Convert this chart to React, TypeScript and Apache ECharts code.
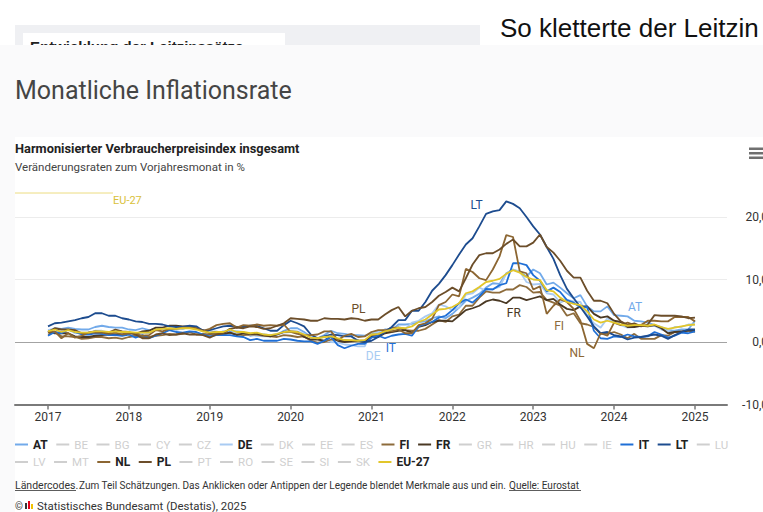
import React, { useEffect, useRef } from "react";
import * as echarts from "echarts";

// ---------- data ----------
const startYear = 2017;
const yearTicks = [2017, 2018, 2019, 2020, 2021, 2022, 2023, 2024, 2025];
const yTicks = [-10, 0, 10, 20];

const rowOne = ["AT", "BE", "BG", "CY", "CZ", "DE", "DK", "EE", "ES", "FI", "FR", "GR", "HR", "HU", "IE", "IT", "LT", "LU"];
const rowTwo = ["LV", "MT", "NL", "PL", "PT", "RO", "SE", "SI", "SK", "EU-27"];
const shown = ["AT", "DE", "FI", "FR", "IT", "LT", "NL", "PL", "EU-27"];

// monthly HICP rates Jan 2017 .. Jan 2025
const atValues = [
  1.6, 2.2, 2.1, 2.3, 2.1, 2.0, 2.0, 2.4, 2.6, 2.4, 2.3, 2.3,
  2.0, 1.9, 2.2, 1.9, 2.1, 2.1, 2.1, 2.1, 2.1, 2.4, 2.2, 1.7,
  1.7, 1.4, 1.7, 1.7, 1.7, 1.6, 1.0, 1.2, 1.2, 1.1, 1.2, 1.8,
  2.2, 2.2, 1.6, 0.8, 0.6, 1.1, 1.8, 1.4, 1.3, 1.1, 1.1, 1.0,
  1.4, 1.4, 2.0, 1.9, 2.8, 2.8, 2.9, 3.2, 3.3, 3.8, 4.1, 3.8,
  4.5, 5.5, 6.6, 7.1, 7.7, 8.7, 9.4, 9.3, 11.0, 11.6, 11.2, 10.5,
  11.6, 11.0, 9.2, 9.5, 8.7, 7.8, 7.0, 7.5, 5.7, 4.9, 4.9, 5.7,
  4.3, 4.2, 4.1, 3.4, 3.3, 3.1, 2.7, 2.4, 1.8, 1.8, 2.0, 2.0,
  3.4,
];
const deValues = [
  1.9, 2.2, 1.5, 2.0, 1.4, 1.5, 1.5, 1.8, 1.8, 1.5, 1.8, 1.6,
  1.4, 1.2, 1.5, 1.4, 2.2, 2.1, 2.1, 1.9, 2.2, 2.6, 2.2, 1.7,
  1.7, 1.7, 1.4, 2.1, 1.3, 1.5, 1.1, 1.0, 0.9, 0.9, 1.2, 1.5,
  1.6, 1.7, 1.3, 0.8, 0.5, 0.8, 0.0, -0.1, -0.4, -0.5, -0.7, -0.7,
  1.6, 1.6, 2.0, 2.1, 2.4, 2.1, 3.1, 3.4, 4.1, 4.6, 6.0, 5.7,
  5.1, 5.5, 7.6, 7.8, 8.7, 8.2, 8.5, 8.8, 10.9, 11.6, 11.3, 9.6,
  9.2, 9.3, 7.8, 7.6, 6.3, 6.8, 6.5, 6.4, 4.3, 3.0, 2.3, 3.8,
  3.1, 2.7, 2.3, 2.4, 2.8, 2.5, 2.6, 2.0, 1.8, 2.4, 2.4, 2.8,
  2.8,
];
const fiValues = [
  1.2, 1.6, 0.9, 0.9, 0.8, 0.5, 0.6, 0.8, 0.8, 0.6, 0.7, 0.5,
  0.8, 1.0, 0.8, 0.8, 1.0, 1.1, 1.3, 1.2, 1.3, 1.6, 1.2, 1.3,
  1.2, 1.3, 1.2, 1.5, 1.2, 1.1, 1.2, 1.2, 1.0, 0.9, 0.8, 1.1,
  1.0, 0.8, 0.9, 0.2, -0.1, 0.0, 0.4, 0.3, 0.3, 0.2, 0.2, 0.2,
  1.0, 1.1, 1.8, 2.3, 2.3, 1.9, 1.8, 1.8, 2.1, 2.8, 3.5, 3.2,
  4.1, 4.4, 5.8, 5.8, 7.1, 8.1, 7.9, 7.9, 8.4, 8.4, 9.1, 8.8,
  7.9, 8.0, 6.7, 6.3, 5.8, 4.2, 4.6, 3.0, 2.8, 2.4, 1.3, 1.3,
  1.6, 1.2, 0.6, 1.3, 0.5, 0.5, 0.5, 1.1, 1.0, 1.6, 1.6, 1.9,
  1.6,
];
const frValues = [
  1.6, 1.4, 1.4, 1.4, 0.9, 0.8, 0.8, 1.0, 1.1, 1.2, 1.2, 1.2,
  1.5, 1.3, 1.7, 1.8, 2.3, 2.3, 2.6, 2.6, 2.5, 2.5, 2.2, 1.9,
  1.4, 1.6, 1.3, 1.5, 1.1, 1.4, 1.3, 1.3, 1.1, 0.9, 1.2, 1.6,
  1.7, 1.6, 0.8, 0.4, 0.4, 0.2, 0.9, 0.2, 0.0, 0.1, 0.2, 0.0,
  0.8, 0.8, 1.4, 1.6, 1.8, 1.9, 1.5, 2.4, 2.7, 3.2, 3.4, 3.4,
  3.3, 4.2, 5.1, 5.4, 5.8, 6.5, 6.8, 6.6, 6.2, 7.1, 7.1, 6.7,
  7.0, 7.3, 6.7, 6.9, 6.0, 5.3, 5.1, 5.7, 5.7, 4.5, 3.9, 4.1,
  3.4, 3.2, 2.4, 2.4, 2.6, 2.5, 2.7, 2.2, 1.4, 1.6, 1.7, 1.8,
  1.8,
];
const itValues = [
  1.0, 1.6, 1.4, 2.0, 1.6, 1.2, 1.2, 1.4, 1.3, 1.1, 1.1, 1.0,
  1.2, 0.7, 1.1, 0.6, 1.0, 1.4, 1.9, 1.6, 1.5, 1.7, 1.6, 1.2,
  0.9, 1.1, 1.1, 1.1, 0.9, 0.8, 0.3, 0.5, 0.2, 0.2, 0.2, 0.5,
  0.4, 0.2, 0.1, 0.1, -0.3, 0.2, 0.8, -0.5, -1.0, -0.6, -0.3, -0.3,
  0.7, 1.0, 0.6, 1.0, 1.2, 1.3, 1.0, 2.5, 2.9, 3.2, 3.9, 4.2,
  5.1, 6.2, 6.8, 6.3, 7.3, 8.5, 8.4, 9.1, 9.4, 12.6, 12.6, 12.3,
  10.7, 9.8, 8.1, 8.7, 8.0, 6.7, 6.3, 5.5, 5.6, 1.8, 0.6, 0.5,
  0.9, 0.8, 1.2, 0.9, 0.8, 0.9, 1.6, 1.2, 0.7, 1.0, 1.5, 1.4,
  1.7,
];
const ltValues = [
  2.5, 3.0, 3.1, 3.3, 3.5, 3.8, 4.0, 4.6, 4.6, 4.2, 4.2, 3.8,
  3.6, 3.3, 3.2, 2.9, 2.9, 2.8, 2.5, 2.4, 2.4, 2.6, 2.5, 1.8,
  1.9, 2.2, 2.5, 2.6, 2.4, 2.4, 2.6, 2.6, 2.2, 1.8, 1.8, 2.7,
  3.4, 3.0, 2.5, 1.2, 0.6, 0.9, 1.2, 1.1, 0.9, 0.9, 0.2, 0.0,
  0.2, 0.8, 1.6, 2.4, 3.5, 3.5, 5.0, 5.0, 6.4, 8.2, 9.3, 10.7,
  12.3, 14.0, 15.6, 16.6, 18.5, 20.5, 20.9, 21.1, 22.5, 22.1, 21.4, 20.0,
  18.5, 17.2, 15.2, 13.3, 10.7, 8.5, 7.0, 5.6, 4.1, 2.5, 1.4, 1.6,
  1.1, 0.9, 0.4, 0.7, 0.8, 1.0, 1.2, 1.0, 0.5, 1.1, 1.6, 2.0,
  2.0,
];
const nlValues = [
  1.6, 1.7, 0.6, 1.4, 0.7, 1.0, 1.5, 1.5, 1.5, 1.3, 1.5, 1.2,
  1.4, 1.3, 1.0, 1.1, 1.9, 1.7, 2.1, 2.1, 2.3, 2.3, 2.2, 1.8,
  2.1, 2.7, 2.9, 3.0, 2.3, 2.7, 2.6, 2.8, 2.6, 2.7, 2.6, 2.8,
  1.6, 1.3, 1.1, 1.1, 1.2, 1.7, 1.7, 0.3, 1.0, 1.3, 0.8, 0.9,
  1.6, 1.9, 1.9, 1.7, 2.0, 1.4, 1.4, 2.7, 3.0, 3.7, 5.9, 6.4,
  7.6, 7.3, 11.7, 11.2, 10.2, 9.9, 11.6, 13.7, 17.1, 16.8, 11.3, 11.0,
  8.4, 8.9, 4.5, 5.8, 6.8, 6.4, 5.3, 3.4, -0.3, -1.0, 1.4, 1.0,
  3.1, 2.7, 3.1, 2.7, 2.7, 3.4, 3.4, 3.3, 3.3, 4.0, 4.0, 4.0,
  3.3,
];
const plValues = [
  1.6, 2.2, 2.0, 2.0, 1.9, 1.4, 1.5, 1.7, 1.6, 1.5, 2.0, 1.7,
  1.6, 1.2, 0.6, 0.6, 1.2, 1.4, 1.1, 1.2, 1.4, 1.2, 1.2, 1.1,
  0.7, 1.2, 1.4, 2.1, 2.3, 2.2, 2.5, 2.4, 2.1, 2.2, 2.6, 3.0,
  3.8, 3.7, 3.6, 3.4, 3.4, 3.8, 3.7, 3.7, 3.6, 3.8, 3.7, 3.4,
  3.6, 3.6, 4.4, 5.1, 5.6, 4.1, 5.0, 5.4, 5.6, 6.4, 7.4, 8.0,
  8.7, 8.1, 10.2, 12.4, 13.9, 14.2, 14.2, 14.8, 15.7, 16.4, 15.3, 15.3,
  15.9, 17.2, 15.2, 14.3, 13.0, 11.4, 10.3, 10.3, 8.2, 6.6, 6.6, 6.2,
  4.5, 3.3, 2.7, 3.0, 2.5, 2.8, 4.3, 4.2, 4.2, 4.2, 4.1, 3.8,
  3.9,
];
const euValues = [
  1.7, 2.0, 1.6, 1.9, 1.6, 1.5, 1.5, 1.7, 1.7, 1.6, 1.7, 1.6,
  1.6, 1.5, 1.5, 1.5, 2.0, 2.1, 2.2, 2.1, 2.2, 2.2, 2.0, 1.7,
  1.5, 1.6, 1.6, 2.0, 1.6, 1.6, 1.4, 1.5, 1.2, 1.1, 1.3, 1.6,
  1.7, 1.6, 1.2, 0.7, 0.6, 0.8, 0.9, 0.6, 0.3, 0.3, 0.2, 0.3,
  1.2, 1.3, 1.7, 2.0, 2.3, 2.2, 2.5, 3.2, 3.6, 4.4, 5.2, 5.3,
  5.6, 6.2, 7.8, 8.1, 8.8, 9.6, 9.8, 10.1, 10.9, 11.5, 11.1, 10.4,
  10.0, 9.9, 8.3, 8.1, 7.1, 6.4, 6.1, 5.9, 4.9, 3.6, 3.1, 3.4,
  3.1, 2.8, 2.6, 2.7, 2.7, 2.6, 2.8, 2.4, 2.1, 2.3, 2.5, 2.7,
  2.8,
];

const seriesValues: Record<string, number[]> = {
  AT: atValues, DE: deValues, FI: fiValues, FR: frValues, IT: itValues,
  LT: ltValues, NL: nlValues, PL: plValues, "EU-27": euValues,
};

const seriesColors: Record<string, string> = {
  AT: "#72aaea", DE: "#a9cbf2", FI: "#8d6b3b", FR: "#4a3924", IT: "#1f6fd6",
  LT: "#1d4c8f", NL: "#8c6632", PL: "#6c4e2a", "EU-27": "#e2c62a",
};

// label anchors in data units [year, value]
const labelAnchors: Record<string, [number, number]> = {
  LT: [2022.3, 21.9], PL: [2020.84, 5.3], DE: [2021.02, -2.2], IT: [2021.24, -1.0],
  FR: [2022.76, 4.6], FI: [2023.32, 2.6], NL: [2023.54, -1.8], AT: [2024.26, 5.6],
};

const FONT = "Roboto, 'Noto Sans', sans-serif";

export default function App() {
  const ref = useRef<HTMLDivElement>(null);

  useEffect(() => {
    if (!ref.current) return;
    const chart = echarts.init(ref.current, undefined, { renderer: "svg" });
    const all = [...rowOne, ...rowTwo];
    const selected: Record<string, boolean> = {};
    all.forEach((n) => (selected[n] = shown.includes(n)));

    const series = all.map((name) => {
      const vals = seriesValues[name] || [];
      const color = seriesColors[name] || "#cccccc";
      const anchor = labelAnchors[name];
      return {
        name,
        type: "line",
        data: vals.map((v, i) => [startYear + i / 12, v]),
        showSymbol: false,
        symbol: "none",
        color,
        lineStyle: { width: 1.8, color },
        emphasis: { disabled: true },
        markPoint: anchor
          ? {
              symbol: "circle",
              symbolSize: 1,
              itemStyle: { color: "transparent" },
              label: { show: true, position: "inside", formatter: name, color, fontSize: 12, fontFamily: FONT },
              data: [{ coord: anchor }],
            }
          : undefined,
      };
    });

    const legendBase = {
      left: 15,
      orient: "horizontal",
      padding: 0,
      itemGap: 8.5,
      itemWidth: 13,
      itemHeight: 2,
      icon: "rect",
      selected,
      inactiveColor: "#cfcfcf",
      textStyle: { fontSize: 12, color: "#222", fontFamily: FONT },
    };
    const mk = (names: string[]) =>
      names.map((n) =>
        shown.includes(n)
          ? { name: n, textStyle: { fontWeight: "bold" } }
          : { name: n, textStyle: { fontWeight: "normal", fontSize: 11.5 } }
      );

    chart.setOption({
      animation: false,
      backgroundColor: "#ffffff",
      grid: { left: 15, right: 36, top: 154.5, height: 250, outerBoundsMode: "none", containLabel: false },
      xAxis: {
        type: "value",
        min: 2016.592,
        max: 2025.396,
        axisLine: { show: true, onZero: false, lineStyle: { color: "#7a7a7a", width: 2 } },
        axisTick: { show: true, customValues: yearTicks, length: 5, lineStyle: { color: "#7a7a7a", width: 1.5 } },
        axisLabel: { customValues: yearTicks, formatter: (v: number) => String(v), color: "#333", fontSize: 12, margin: 6, fontFamily: FONT },
        splitLine: { show: false },
      },
      yAxis: {
        type: "value",
        position: "right",
        min: -10,
        max: 30,
        interval: 10,
        axisLine: { show: false },
        axisTick: { show: false },
        axisLabel: {
          formatter: (v: number) => (yTicks.includes(v) ? v.toFixed(1).replace(".", ",") : ""),
          align: "right",
          margin: 41,
          color: "#333",
          fontSize: 12,
          fontFamily: FONT,
        },
        splitLine: { lineStyle: { color: ["transparent", "#a3a3a3", "#ececec", "#ececec", "transparent"], width: 1 } },
      },
      legend: [
        { ...legendBase, top: 438.5, data: mk(rowOne) },
        { ...legendBase, top: 456, data: mk(rowTwo) },
      ],
      series,
      graphic: [
        { type: "rect", shape: { x: 15, y: 25, width: 465, height: 20 }, style: { fill: "#eff0f3" } },
        { type: "rect", shape: { x: 23, y: 33, width: 262, height: 12 }, style: { fill: "#ffffff" } },
        { type: "text", x: 30, y: 39, style: { text: "Entwicklung der Leitzinssätze", fontSize: 15, fontWeight: "bold", fontFamily: "'Liberation Sans', Arial, sans-serif", fill: "#222", verticalAlign: "top" } },
        { type: "text", x: 500, y: 28, style: { text: "So kletterte der Leitzin", fontSize: 26, fontFamily: "'Liberation Sans', Arial, sans-serif", fill: "#111", verticalAlign: "middle" } },
        { type: "rect", shape: { x: 0, y: 45, width: 763, height: 467 }, style: { fill: "#fafafb" } },
        { type: "rect", shape: { x: 15, y: 137, width: 748, height: 375 }, style: { fill: "#ffffff" } },
        { type: "text", x: 15, y: 90, style: { text: "Monatliche Inflationsrate", fontSize: 25, fontWeight: 400, fontFamily: FONT, fill: "#454545", verticalAlign: "middle" } },
        { type: "text", x: 15, y: 148, style: { text: "Harmonisierter Verbraucherpreisindex insgesamt", fontSize: 12.8, fontWeight: "bold", fontFamily: FONT, fill: "#222", verticalAlign: "middle" } },
        { type: "text", x: 15, y: 167, style: { text: "Veränderungsraten zum Vorjahresmonat in %", fontSize: 11.5, fontFamily: FONT, fill: "#444", verticalAlign: "middle" } },
        { type: "line", shape: { x1: 15, y1: 193, x2: 113, y2: 193 }, style: { stroke: "#ecdc80", lineWidth: 1 } },
        { type: "text", x: 113, y: 200, style: { text: "EU-27", fontSize: 11, fontFamily: FONT, fill: "#d9c13a", verticalAlign: "middle" } },
        { type: "rect", shape: { x: 749, y: 147.5, width: 16, height: 2.5 }, style: { fill: "#707070" } },
        { type: "rect", shape: { x: 749, y: 152, width: 16, height: 2.5 }, style: { fill: "#707070" } },
        { type: "rect", shape: { x: 749, y: 156.5, width: 16, height: 2.5 }, style: { fill: "#707070" } },
        { type: "text", x: 15, y: 485, style: { text: "Ländercodes.", fontSize: 10.5, fontFamily: FONT, fill: "#333", verticalAlign: "middle" } },
        { type: "line", shape: { x1: 15, y1: 490.5, x2: 76, y2: 490.5 }, style: { stroke: "#333", lineWidth: 0.8 } },
        { type: "text", x: 79, y: 485, style: { text: "Zum Teil Schätzungen. Das Anklicken oder Antippen der Legende blendet Merkmale aus und ein.", fontSize: 10, fontFamily: FONT, fill: "#333", verticalAlign: "middle" } },
        { type: "text", x: 509, y: 485, style: { text: "Quelle: Eurostat", fontSize: 10, fontFamily: FONT, fill: "#333", verticalAlign: "middle" } },
        { type: "line", shape: { x1: 509, y1: 490.5, x2: 581, y2: 490.5 }, style: { stroke: "#333", lineWidth: 0.8 } },
        { type: "text", x: 15, y: 506, style: { text: "©", fontSize: 10, fontFamily: FONT, fill: "#333", verticalAlign: "middle" } },
        { type: "rect", shape: { x: 25, y: 503, width: 2, height: 6 }, style: { fill: "#333" } },
        { type: "rect", shape: { x: 28, y: 501, width: 2, height: 8 }, style: { fill: "#e2001a" } },
        { type: "rect", shape: { x: 31, y: 504, width: 2, height: 5 }, style: { fill: "#f2c200" } },
        { type: "text", x: 37, y: 506, style: { text: "Statistisches Bundesamt (Destatis), 2025", fontSize: 11.4, fontFamily: FONT, fill: "#333", verticalAlign: "middle" } },
      ],
    });
    return () => chart.dispose();
  }, []);

  return (
    <div style={{ position: "fixed", left: 0, top: 0, width: 763, height: 512, overflow: "hidden", background: "#fff" }}>
      <div ref={ref} style={{ width: 763, height: 512 }} />
    </div>
  );
}
